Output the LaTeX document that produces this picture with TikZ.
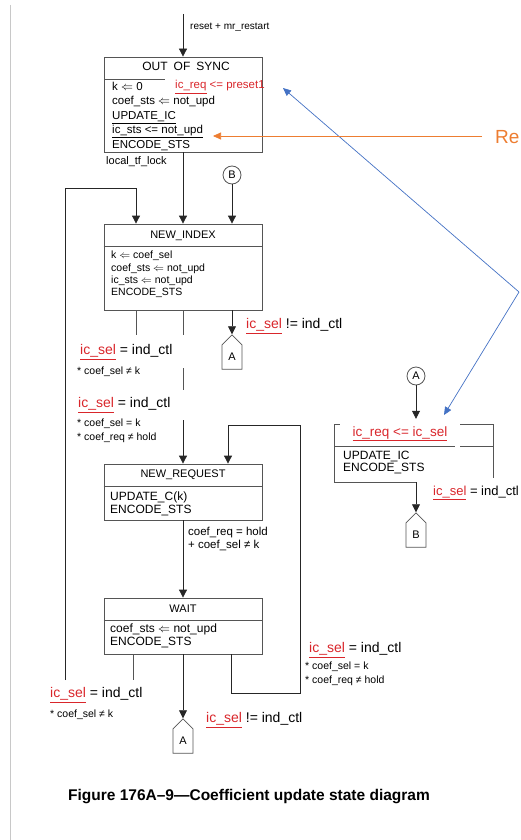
\documentclass[tikz,border=0pt]{standalone}
\usepackage{fontspec}
\setmainfont{Liberation Sans}
\usetikzlibrary{arrows.meta,positioning,shapes.symbols}
\definecolor{inkred}{HTML}{D9262B}
\definecolor{noteblue}{HTML}{4472C4}
\definecolor{noteorange}{HTML}{ED7D31}
\definecolor{pagegrey}{HTML}{C8C8C8}
\definecolor{linegrey}{HTML}{555555}
\newcommand{\icsel}{\textcolor{inkred}{\underline{ic\_sel}}}
\tikzset{
  statebox/.style  = {draw=linegrey, line width=0.8pt, minimum width=158, inner sep=0pt},
  titletext/.style = {inner sep=0pt, font=\fontsize{11}{12}\selectfont},
  bodytext/.style  = {anchor=north west, align=left, inner sep=0pt},
  guard/.style     = {anchor=west, inner sep=0pt, font=\fontsize{14}{15}\selectfont},
  guardsm/.style   = {anchor=north west, align=left, inner sep=0pt, font=\fontsize{10.5}{13.5}\selectfont},
  flow/.style      = {-{Triangle[length=8pt,width=8pt]}, draw=black!85, line width=0.8pt},
  link/.style      = {draw=linegrey, line width=0.8pt},
  noteflow/.style  = {-{Triangle[length=8pt,width=7pt]}, line width=0.7pt},
  conn/.style      = {circle, draw=linegrey, line width=0.8pt, minimum size=18, inner sep=0pt,
                      font=\fontsize{11}{12}\selectfont},
  offpage/.style   = {signal, signal to=north, signal from=nowhere, draw=linegrey, line width=0.8pt,
                      minimum width=20, minimum height=28, inner sep=0pt, font=\fontsize{11}{12}\selectfont},
}
\begin{document}
\begin{tikzpicture}[x=1pt,y=-1pt]
  \useasboundingbox (0,0) rectangle (520,840);
  \draw[pagegrey, line width=1pt] (10.5,5) -- (10.5,840);

  % OUT OF SYNC
  \coordinate (rs) at (183,14);
  \node[statebox, minimum height=95] (oos) at (183,104.5) {};
  \node[titletext, font=\fontsize{12}{13}\selectfont] (oost) at (186,66) {OUT\hspace{6pt}OF\hspace{6pt}SYNC};
  \draw[link] (105,79) -- (165,79);
  \node[bodytext, font=\fontsize{11.5}{14.4}\selectfont] (oosb) at (112,82)
    {k $\Leftarrow$ 0\\coef\_sts $\Leftarrow$ not\_upd\\\underline{UPDATE\_IC}\\\underline{ic\_sts <= not\_upd}\\ENCODE\_STS};
  \node[anchor=west, inner sep=0pt, text=inkred, font=\fontsize{11.5}{12}\selectfont] (oosr) at (175,87)
    {\underline{ic\_req} <= preset1};
  \node[anchor=west, inner sep=0pt, font=\fontsize{11}{12}\selectfont] (tflock) at (106,162) {local\_tf\_lock};
  \node[anchor=west, inner sep=0pt, font=\fontsize{10}{11}\selectfont] (rstlbl) at (190,27) {reset + mr\_restart};
  \draw[flow] (rs) -- (oos.north);

  % NEW_INDEX
  \node[statebox, minimum height=86] (ni) at (183,267) {};
  \node[titletext] (nit) at (183,236) {NEW\_INDEX};
  \draw[link] ([yshift=-23]ni.north west) -- ([yshift=-23]ni.north east);
  \node[bodytext, font=\fontsize{10.5}{12.3}\selectfont] (nib) at (111,251)
    {k $\Leftarrow$ coef\_sel\\coef\_sts $\Leftarrow$ not\_upd\\ic\_sts $\Leftarrow$ not\_upd\\ENCODE\_STS};
  \draw[flow] (oos.south) -- (ni.north);
  \node[conn] (cB) at (232,175) {B};
  \draw[flow] (cB) -- (cB |- ni.north);
  \coordinate (lpb) at (65,680);
  \coordinate (lpt) at (136,188);
  \draw[flow] (lpb) |- (lpt) -- (lpt |- ni.north);

  % out of NEW_INDEX
  \node[offpage] (pA) at (232,357) {A};
  \draw[flow] (ni.south -| pA) -- (pA.north);
  \draw[link] (ni.south -| lpt) -- ++(0,25);
  \draw[link] (ni.south) -- ++(0,25);
  \draw[link] ([yshift=-58]ni.south) -- ++(0,22);
  \node[guard] (g1) at (80,352) {\icsel{} = ind\_ctl};
  \node[guardsm] (g1s) at (77,367) {* coef\_sel ≠ k};
  \node[guard] (g2) at (78,405) {\icsel{} = ind\_ctl};
  \node[guardsm] (g2s) at (77,419) {* coef\_sel = k\\* coef\_req ≠ hold};
  \node[guard] (g3) at (246,326) {\icsel{} != ind\_ctl};

  % NEW_REQUEST
  \node[statebox, minimum height=56] (nr) at (183,492) {};
  \node[titletext] (nrt) at (183,475) {NEW\_REQUEST};
  \draw[link] ([yshift=-23]nr.north west) -- ([yshift=-23]nr.north east);
  \node[bodytext, font=\fontsize{12}{13}\selectfont] (nrb) at (110,492) {UPDATE\_C(k)\\ENCODE\_STS};
  \draw[flow] ([yshift=-110]ni.south) -- (nr.north);

  % WAIT
  \node[statebox, minimum height=56] (wt) at (183,626) {};
  \node[titletext] (wtt) at (183,609) {WAIT};
  \draw[link] ([yshift=-23]wt.north west) -- ([yshift=-23]wt.north east);
  \node[bodytext, font=\fontsize{12}{13}\selectfont] (wtb) at (110,624) {coef\_sts $\Leftarrow$ not\_upd\\ENCODE\_STS};
  \draw[flow] (nr.south) -- (wt.north);
  \node[guardsm, font=\fontsize{11.5}{13}\selectfont] (g4) at (188,527) {coef\_req = hold\\+ coef\_sel ≠ k};

  % loops out of WAIT
  \coordinate (rl1) at (300,693);
  \coordinate (rl2) at (300,425);
  \draw[flow] ([xshift=48]wt.south) |- (rl1) -- (rl2) -| ([xshift=45]nr.north);
  \node[guard] (g5) at (309,650) {\icsel{} = ind\_ctl};
  \node[guardsm] (g5s) at (305,662) {* coef\_sel = k\\* coef\_req ≠ hold};
  \draw[link] ([xshift=-50]wt.south) -- ++(0,26);
  \node[guard] (g6) at (50,695) {\icsel{} = ind\_ctl};
  \node[guardsm] (g6s) at (50,710) {* coef\_sel ≠ k};
  \node[offpage] (pA2) at (183,741) {A};
  \draw[flow] (wt.south) -- (pA2.north);
  \node[guard] (g7) at (206,720) {\icsel{} != ind\_ctl};

  % ic_req state
  \node[conn] (cA) at (416,376) {A};
  \node[minimum width=158, minimum height=57, inner sep=0pt] (icb) at (414,453.5) {};
  \draw[flow] (cA) -- ([yshift=6]cA |- icb.north);
  \draw[link] ([xshift=5]icb.north west) -- (icb.north west) -- (icb.south west) -- (icb.south -| cA);
  \draw[link] ([yshift=-22]icb.north west) -- ++(120,0);
  \draw[link] ([xshift=-33]icb.north east) -- (icb.north east) -- ([yshift=-53]icb.north east);
  \draw[link] ([xshift=-33,yshift=-22]icb.north east) -- ++(33,0);
  \node[inner sep=0pt, text=inkred, font=\fontsize{13.5}{14}\selectfont] (icbt) at (400,434)
    {\underline{ic\_req <= ic\_sel}};
  \node[bodytext, font=\fontsize{12}{12}\selectfont] (icbb) at (343,451) {UPDATE\_IC\\ENCODE\_STS};
  \node[offpage] (pB) at (416,535) {B};
  \draw[flow] (icb.south -| cA) -- (pB.north);
  \node[guard, font=\fontsize{13}{14}\selectfont] (g8) at (433,493) {\icsel{} = ind\_ctl};

  % notes
  \coordinate (bv) at (519,292);
  \coordinate (bt1) at (283,88);
  \coordinate (bt2) at (444,415);
  \draw[noteflow, noteblue] (bv) -- (bt1);
  \draw[noteflow, noteblue] (bv) -- (bt2);
  \coordinate (os) at (482,136);
  \coordinate (ot) at (213,136);
  \draw[noteflow, noteorange] (os) -- (ot);
  \node[anchor=west, inner sep=0pt, text=noteorange, font=\fontsize{19}{21}\selectfont] (re) at (495,137) {Re};

  \node[font=\bfseries\fontsize{15.5}{17}\selectfont] (cap) at (249,797)
    {Figure 176A–9—Coefficient update state diagram};
\end{tikzpicture}
\end{document}
